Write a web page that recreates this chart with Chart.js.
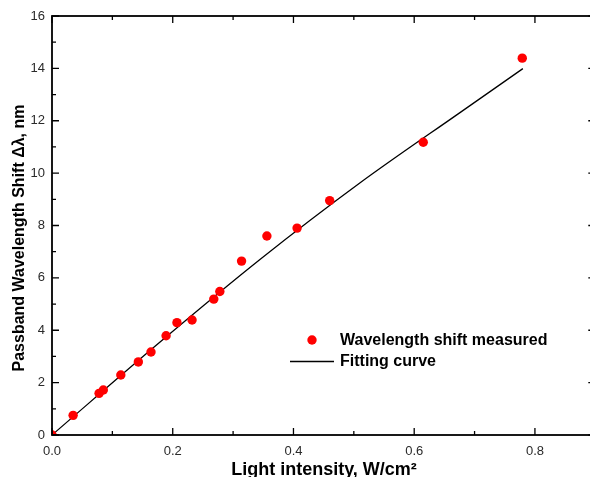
<!DOCTYPE html>
<html>
<head>
<meta charset="utf-8">
<script src="https://cdn.jsdelivr.net/npm/chart.js@4/dist/chart.umd.min.js"></script>
<style>
html,body{margin:0;padding:0;background:#fff;overflow:hidden;}
#wrap{width:600px;height:477px;}
</style>
</head>
<body>
<div id="wrap"><canvas id="c" width="600" height="477"></canvas></div>
<script>
// Data
const measuredX = [0, 0.035, 0.078, 0.085, 0.114, 0.143, 0.164, 0.189, 0.207, 0.232, 0.268, 0.278, 0.314, 0.356, 0.406, 0.460, 0.615, 0.779];
const measuredY = [0, 0.75, 1.59, 1.72, 2.29, 2.79, 3.17, 3.79, 4.29, 4.39, 5.19, 5.48, 6.64, 7.60, 7.90, 8.95, 11.18, 14.39];
const fitX = [0, 0.179, 0.345, 0.511, 0.677, 0.780];
const fitY = [0, 3.55, 6.71, 9.64, 12.33, 13.99];
const xMajorTicks = [0, 0.2, 0.4, 0.6, 0.8];
const xMinorTicks = [0.1, 0.3, 0.5, 0.7];
const yMajorTicks = [0, 2, 4, 6, 8, 10, 12, 14, 16];
const yMinorTicks = [1, 3, 5, 7, 9, 11, 13, 15];
const seriesLabels = ["Wavelength shift measured", "Fitting curve"];
const xTitle = "Light intensity, W/cm\u00B2";
const yTitle = "Passband Wavelength Shift \u0394\u03BB, nm";

const FONT = '"Liberation Sans", Arial, Helvetica, sans-serif';

const framePlugin = {
  id: 'frame',
  afterDraw(chart) {
    const ctx = chart.ctx;
    const a = chart.chartArea;
    const xs = chart.scales.x, ys = chart.scales.y;
    ctx.save();
    ctx.strokeStyle = '#000';
    ctx.lineWidth = 1.8;
    ctx.strokeRect(a.left, a.top, a.right - a.left, a.bottom - a.top);
    ctx.lineWidth = 1.3;
    const major = 7, minor = 4;
    ctx.beginPath();
    xMajorTicks.forEach(v => { const p = xs.getPixelForValue(v);
      ctx.moveTo(p, a.bottom); ctx.lineTo(p, a.bottom - major);
      ctx.moveTo(p, a.top); ctx.lineTo(p, a.top + major); });
    xMinorTicks.forEach(v => { const p = xs.getPixelForValue(v);
      ctx.moveTo(p, a.bottom); ctx.lineTo(p, a.bottom - minor);
      ctx.moveTo(p, a.top); ctx.lineTo(p, a.top + minor); });
    yMajorTicks.forEach(v => { const p = ys.getPixelForValue(v);
      ctx.moveTo(a.left, p); ctx.lineTo(a.left + major, p);
      ctx.moveTo(a.right, p); ctx.lineTo(a.right - major, p); });
    yMinorTicks.forEach(v => { const p = ys.getPixelForValue(v);
      ctx.moveTo(a.left, p); ctx.lineTo(a.left + minor, p);
      ctx.moveTo(a.right, p); ctx.lineTo(a.right - minor, p); });
    ctx.stroke();

    // Axis titles
    ctx.fillStyle = '#000';
    ctx.font = 'bold 18px ' + FONT;
    ctx.textAlign = 'center';
    ctx.textBaseline = 'alphabetic';
    ctx.fillText(xTitle, 324, 475);
    ctx.save();
    ctx.translate(24, 238);
    ctx.rotate(-Math.PI / 2);
    ctx.font = 'bold 16px ' + FONT;
    ctx.fillText(yTitle, 0, 0);
    ctx.restore();

    // Legend
    const ds0 = chart.data.datasets[0], ds1 = chart.data.datasets[1];
    ctx.font = 'bold 16px ' + FONT;
    ctx.textAlign = 'left';
    ctx.textBaseline = 'middle';
    ctx.fillStyle = ds0.backgroundColor;
    ctx.beginPath();
    ctx.arc(312, 340, ds0.pointRadius, 0, Math.PI * 2);
    ctx.fill();
    ctx.fillStyle = '#000';
    ctx.fillText(ds0.label, 340, 341);
    ctx.strokeStyle = ds1.borderColor;
    ctx.lineWidth = ds1.borderWidth;
    ctx.beginPath();
    ctx.moveTo(290, 361.5); ctx.lineTo(334, 361.5);
    ctx.stroke();
    ctx.fillText(ds1.label, 340, 362);
    ctx.restore();
  }
};

new Chart(document.getElementById('c'), {
  type: 'scatter',
  data: {
    datasets: [
      {
        label: seriesLabels[0],
        data: measuredX.map((x, i) => ({x: x, y: measuredY[i]})),
        backgroundColor: '#ff0000',
        borderColor: '#ff0000',
        borderWidth: 0,
        pointRadius: 4.7,
        pointHoverRadius: 4.7
      },
      {
        type: 'line',
        label: seriesLabels[1],
        data: fitX.map((x, i) => ({x: x, y: fitY[i]})),
        borderColor: '#000',
        borderWidth: 1.3,
        pointRadius: 0,
        fill: false,
        cubicInterpolationMode: 'monotone'
      }
    ]
  },
  plugins: [framePlugin],
  options: {
    responsive: false,
    animation: false,
    events: [],
    layout: { padding: { top: 16, right: 4.6, left: 0, bottom: 0 } },
    plugins: { legend: { display: false }, tooltip: { enabled: false } },
    scales: {
      x: {
        type: 'linear',
        min: 0, max: 0.9,
        afterBuildTicks: s => { s.ticks = xMajorTicks.map(v => ({value: v})); },
        afterFit: s => { s.height = 42; s.paddingLeft = 0; s.paddingRight = 0; },
        grid: { display: false, drawTicks: false },
        border: { display: false },
        ticks: {
          padding: 9,
          color: '#2a2a2a',
          font: { family: FONT, size: 13 },
          maxRotation: 0,
          callback: v => Number(v).toFixed(1)
        }
      },
      y: {
        type: 'linear',
        min: 0, max: 16,
        afterBuildTicks: s => { s.ticks = yMajorTicks.map(v => ({value: v})); },
        afterFit: s => { s.width = 52; },
        grid: { display: false, drawTicks: false },
        border: { display: false },
        ticks: {
          padding: 7,
          color: '#2a2a2a',
          font: { family: FONT, size: 13 },
          callback: v => String(v)
        }
      }
    }
  }
});
</script>
</body>
</html>
